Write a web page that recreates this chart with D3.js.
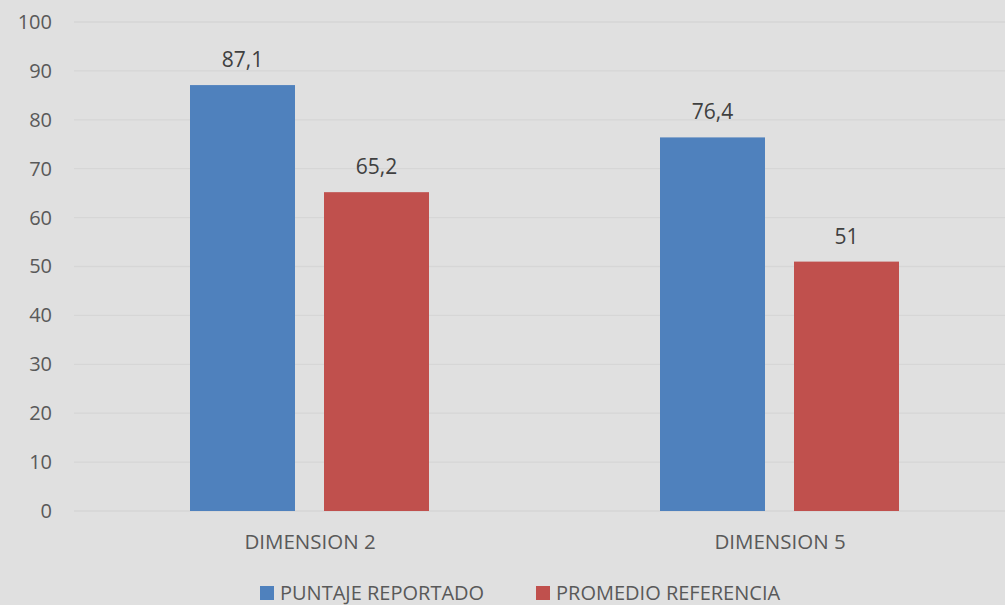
<!DOCTYPE html>
<html><head><meta charset="utf-8">
<script src="https://cdn.jsdelivr.net/npm/d3@7"></script>
<style>body{margin:0;background:#e0e0e0;} svg{display:block;}</style>
</head><body>
<svg id="c" width="1005" height="605"></svg>
<script>
const categories = ["DIMENSION 2", "DIMENSION 5"];
const seriesNames = ["PUNTAJE REPORTADO", "PROMEDIO REFERENCIA"];
const puntaje = [87.1, 76.4];
const promedio = [65.2, 51];
const labels = [["87,1", "76,4"], ["65,2", "51"]];
const yTicks = [0, 10, 20, 30, 40, 50, 60, 70, 80, 90, 100];
const colors = ["#4f81bd", "#c0504d"];

const svg = d3.select("#c");
const W = 1005, H = 605;
const font = "'Open Sans', sans-serif";
svg.append("rect").attr("width", W).attr("height", H).attr("fill", "#e0e0e0");

const y = d3.scaleLinear().domain([0, 100]).range([511, 22]);
const x0 = d3.scaleBand().domain(categories).range([75, 1015]);
const x1 = d3.scaleBand().domain(seriesNames).range([115, 354]).paddingInner(0.2164);

// grid
svg.append("g").selectAll("line").data(yTicks).join("line")
  .attr("x1", 74).attr("x2", W).attr("y1", d => y(d)).attr("y2", d => y(d))
  .attr("stroke", "#d6d6d6").attr("stroke-width", 1.3);

// y labels
const yAxis = d3.axisLeft(y).tickValues(yTicks).tickSize(0).tickPadding(0);
const ga = svg.append("g").attr("transform", "translate(52,0)").call(yAxis);
ga.select(".domain").remove();
ga.selectAll("text").attr("font-family", font).attr("font-size", 20).attr("fill", "#595959");

const series = [puntaje, promedio];
series.forEach((vals, si) => {
  const g = svg.append("g");
  g.selectAll("rect").data(vals).join("rect")
    .attr("x", (d, i) => x0(categories[i]) + x1(seriesNames[si]))
    .attr("width", x1.bandwidth())
    .attr("y", d => y(d)).attr("height", d => y(0) - y(d))
    .attr("fill", colors[si]);
  g.selectAll("text").data(vals).join("text")
    .attr("x", (d, i) => x0(categories[i]) + x1(seriesNames[si]) + x1.bandwidth() / 2)
    .attr("y", d => y(d) - 18)
    .attr("text-anchor", "middle")
    .attr("font-family", font).attr("font-size", 21).attr("fill", "#404040")
    .text((d, i) => labels[si][i]);
});

// x labels
const xAxis = d3.axisBottom(x0).tickSize(0).tickPadding(0);
const gx = svg.append("g").attr("transform", "translate(0,549)").call(xAxis);
gx.select(".domain").remove();
gx.selectAll("text").attr("font-family", font).attr("font-size", 20.5).attr("fill", "#595959").attr("dy", "0");

// legend
const legX = [260, 536];
const lg = svg.append("g");
seriesNames.forEach((n, i) => {
  lg.append("rect").attr("x", legX[i]).attr("y", 586).attr("width", 14).attr("height", 14).attr("fill", colors[i]);
  lg.append("text").attr("x", legX[i] + 20).attr("y", 600)
    .attr("font-family", font).attr("font-size", 20).attr("fill", "#595959").text(n);
});
</script>
</body></html>
